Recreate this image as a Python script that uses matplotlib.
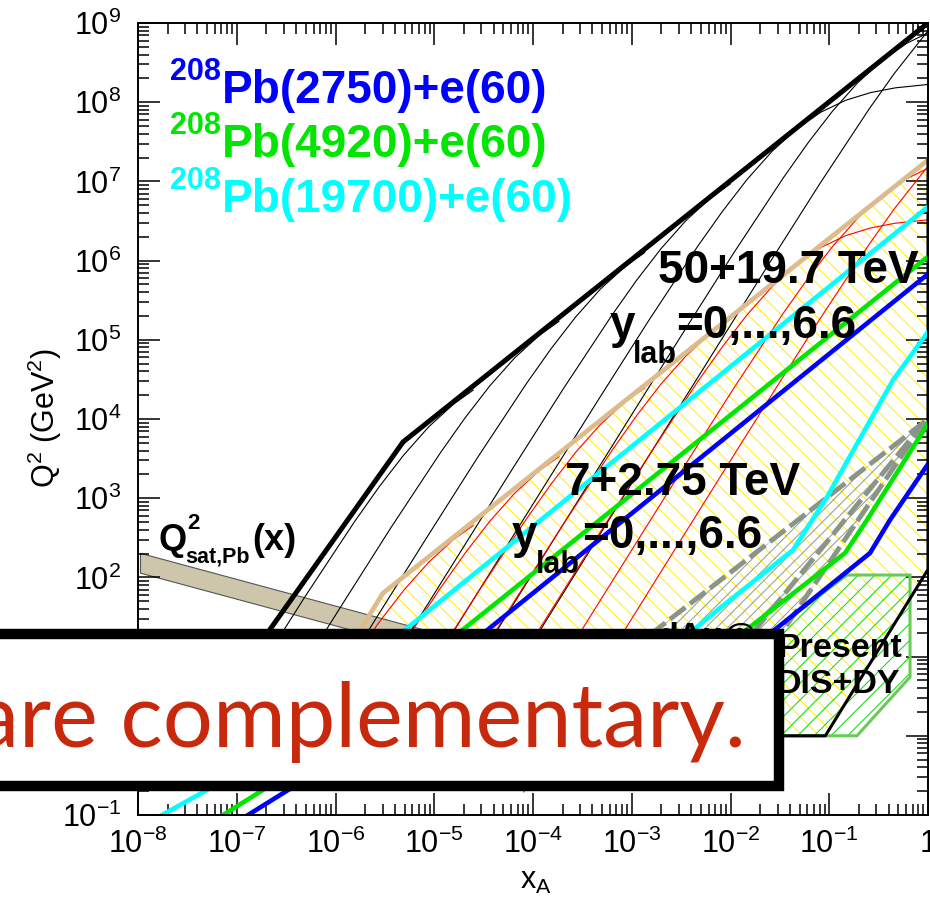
import numpy as np
import matplotlib
matplotlib.use('Agg')
import matplotlib.pyplot as plt
from matplotlib.patches import Polygon, Rectangle
from matplotlib.ticker import FixedLocator, FixedFormatter, LogLocator, NullFormatter

plt.rcParams['font.family'] = ['Liberation Sans', 'DejaVu Sans']
plt.rcParams['mathtext.fontset'] = 'custom'
plt.rcParams['mathtext.rm'] = 'Liberation Sans'
plt.rcParams['mathtext.it'] = 'Liberation Sans:italic'
plt.rcParams['mathtext.bf'] = 'Liberation Sans:bold'
plt.rcParams['hatch.linewidth'] = 0.7

# ---------------- data (log10 x_A , log10 Q^2) ----------------
xtick_values = [1e-8, 1e-7, 1e-6, 1e-5, 1e-4, 1e-3, 1e-2, 1e-1, 1.0]
xtick_labels = [r'$\mathregular{10^{-8}}$', r'$\mathregular{10^{-7}}$', r'$\mathregular{10^{-6}}$',
                r'$\mathregular{10^{-5}}$', r'$\mathregular{10^{-4}}$', r'$\mathregular{10^{-3}}$',
                r'$\mathregular{10^{-2}}$', r'$\mathregular{10^{-1}}$', '1']
ytick_values = [1e-1, 1e0, 1e1, 1e2, 1e3, 1e4, 1e5, 1e6, 1e7, 1e8, 1e9]
ytick_labels = [r'$\mathregular{10^{-1}}$', '1', r'$\mathregular{10^{1}}$', r'$\mathregular{10^{2}}$',
                r'$\mathregular{10^{3}}$', r'$\mathregular{10^{4}}$', r'$\mathregular{10^{5}}$',
                r'$\mathregular{10^{6}}$', r'$\mathregular{10^{7}}$', r'$\mathregular{10^{8}}$',
                r'$\mathregular{10^{9}}$']

# FCC pPb 50+19.7 TeV kinematic limit (thick black)
fcc_limit_lx = [-7.2, -5.316, 0.0]
fcc_limit_lq = [0.4, 3.71, 9.0]

# LHC pPb 7+2.75 TeV limit (tan) and region (yellow hatch)
lhc_limit_lx = [-6.45, -5.75, -5.52, 0.0]
lhc_limit_lq = [0.0, 1.336, 1.80, 7.27]
lhc_region_lx = [-6.45, -5.75, -5.52, 0.0, 0.0, -1.04]
lhc_region_lq = [0.0, 1.336, 1.80, 7.27, 2.1, 0.0]
lhc_edge_lx = [0.0, 0.0, -1.04, -6.45]
lhc_edge_lq = [7.27, 2.1, 0.0, 0.0]

# FCC y_lab = 0..6 curves (thin black)
fcc_y0_lx = [-4.794, -4.594, -4.094, -3.594, -3.094, -2.594, -2.094, -1.594, -1.094, -0.594, -0.344, 0.0]
fcc_y0_lq = [-0.399, 0.0, 1.0, 2.0, 3.0, 4.0, 4.998, 5.992, 6.974, 7.918, 8.358, 8.902]
fcc_y1_lx = [-5.213, -4.963, -4.463, -3.963, -3.463, -2.963, -2.463, -1.963, -1.463, -1.213, -0.963, -0.713, -0.463, -0.213, 0.0]
fcc_y1_lq = [-0.368, 0.132, 1.132, 2.132, 3.131, 4.129, 5.123, 6.105, 7.049, 7.490, 7.893, 8.244, 8.530, 8.745, 8.875]
fcc_y2_lx = [-5.632, -5.332, -4.832, -4.332, -3.832, -3.332, -2.832, -2.332, -2.082, -1.832, -1.582, -1.332, -1.082, -0.832, -0.582, -0.332, 0.0]
fcc_y2_lq = [-0.337, 0.263, 1.263, 2.263, 3.261, 4.255, 5.236, 6.181, 6.621, 7.025, 7.376, 7.661, 7.876, 8.025, 8.121, 8.181, 8.224]
fcc_y3_lx = [-6.1, -5.7, -5.2, -4.7, -4.2, -3.7, -3.2, -2.95, -2.7, -2.45, -2.2, -2.0]
fcc_y3_lq = [-0.405, 0.395, 1.394, 2.392, 3.386, 4.368, 5.312, 5.753, 6.156, 6.507, 6.793, 6.970]
fcc_y4_lx = [-6.569, -6.069, -5.569, -5.069, -4.569, -4.069, -3.819, -3.569, -3.319, -3.069, -2.869]
fcc_y4_lq = [-0.474, 0.525, 1.523, 2.517, 3.499, 4.443, 4.884, 5.287, 5.638, 5.924, 6.101]
fcc_y5_lx = [-6.937, -6.437, -5.937, -5.437, -4.937, -4.687, -4.437, -4.187, -3.937, -3.737]
fcc_y5_lq = [-0.343, 0.655, 1.649, 2.631, 3.575, 4.016, 4.419, 4.770, 5.056, 5.233]
fcc_y6_lx = [-7.306, -6.806, -6.306, -5.806, -5.556, -5.306, -5.056, -4.806, -4.606]
fcc_y6_lq = [-0.214, 0.780, 1.762, 2.706, 3.147, 3.550, 3.901, 4.187, 4.364]

# LHC y_lab = 0..6 curves (thin red)
lhc_y0_lx = [-4.094, -3.594, -3.094, -2.594, -2.094, -1.594, -1.094, -0.594, -0.344, 0.0]
lhc_y0_lq = [-0.709, 0.291, 1.291, 2.291, 3.289, 4.283, 5.265, 6.209, 6.649, 7.193]
lhc_y1_lx = [-4.463, -3.963, -3.463, -2.963, -2.463, -1.963, -1.463, -1.213, -0.963, -0.713, -0.463, -0.213, 0.0]
lhc_y1_lq = [-0.577, 0.423, 1.422, 2.420, 3.414, 4.396, 5.340, 5.781, 6.184, 6.535, 6.821, 7.036, 7.166]
lhc_y2_lx = [-4.832, -4.332, -3.832, -3.332, -2.832, -2.332, -2.082, -1.832, -1.582, -1.332, -1.082, -0.832, -0.582, -0.332, 0.0]
lhc_y2_lq = [-0.446, 0.554, 1.552, 2.546, 3.527, 4.472, 4.912, 5.316, 5.667, 5.952, 6.167, 6.316, 6.412, 6.472, 6.515]
lhc_y3_lx = [-5.2, -4.7, -4.2, -3.7, -3.2, -2.95, -2.7, -2.45, -2.2, -2.0]
lhc_y3_lq = [-0.315, 0.683, 1.677, 2.659, 3.603, 4.044, 4.447, 4.798, 5.084, 5.261]
lhc_y4_lx = [-5.569, -5.069, -4.569, -4.069, -3.819, -3.569, -3.319, -3.069, -2.869]
lhc_y4_lq = [-0.186, 0.808, 1.790, 2.734, 3.175, 3.578, 3.929, 4.215, 4.392]
lhc_y5_lx = [-5.937, -5.437, -4.937, -4.687, -4.437, -4.187, -3.937, -3.737]
lhc_y5_lq = [-0.060, 0.922, 1.866, 2.307, 2.710, 3.061, 3.347, 3.524]
lhc_y6_lx = [-6.306, -5.806, -5.556, -5.306, -5.056, -4.806, -4.606]
lhc_y6_lq = [0.053, 0.997, 1.438, 1.841, 2.192, 2.478, 2.655]

# ePb acceptance lines (upper: y=1, lower: low-y / angle limits)
pb2750_up_lx = [-6.886, -6.43, 0.0]
pb2750_up_lq = [-1.0, -0.646, 5.83]
pb2750_lo_lx = [-2.44, -1.529, -0.587, -0.385, -0.041, 0.0]
pb2750_lo_lq = [0.45, 1.361, 2.308, 2.725, 3.356, 3.43]
pb4920_up_lx = [-7.139, -6.734, 0.0]
pb4920_up_lq = [-1.0, -0.684, 6.05]
pb4920_lo_lx = [-2.755, -1.802, -0.84, -0.618, -0.041, 0.0]
pb4920_lo_lq = [0.45, 1.374, 2.308, 2.725, 3.861, 3.94]
pb19700_up_lx = [-7.757, -7.301, 0.0]
pb19700_up_lq = [-1.0, -0.684, 6.68]
pb19700_lo_lx = [-3.41, -2.339, -2.106, -1.367, -1.023, -0.354, 0.0]
pb19700_lo_lq = [0.3, 1.374, 1.614, 2.346, 3.015, 4.492, 5.1]

# Q^2_sat,Pb(x) band
qsat_lx = [-7.98, -3.0]
qsat_top_lq = [2.31, 0.632]
qsat_bot_lq = [2.06, 0.382]

# dAu@RHIC (gray)
dau_conv = (-0.03, 3.97)
dau_end_lx = [-3.10, -1.97, -1.646]
dau_end_lq = [1.0, 1.0, 1.0]

# Present DIS+DY (green)
dis_lx = [-3.0, -0.82, -0.182, -0.182, -0.72]
dis_lq = [0.0, 2.03, 2.03, 0.742, 0.0]

# ---------------- figure ----------------
W, H = 930, 897
fig = plt.figure(figsize=(W / 100, H / 100), dpi=100)
ax = fig.add_axes([138 / W, 82 / H, 790 / W, 792 / H])
ax.set_xscale('log')
ax.set_yscale('log')
ax.set_xlim(1e-8, 1.0)
ax.set_ylim(0.1, 1e9)


def P(v):
    return np.power(10.0, np.asarray(v, dtype=float))


def fp(x, y):
    return (x / W, 1 - y / H)


# hatched regions
ax.add_patch(Polygon(np.column_stack([P(lhc_region_lx), P(lhc_region_lq)]), closed=True,
                     facecolor='none', edgecolor='#fff000', linewidth=0, hatch='\\\\', zorder=1))
ax.add_patch(Polygon(np.column_stack([P(dis_lx), P(dis_lq)]), closed=True,
                     facecolor='none', edgecolor='#00dd00', linewidth=0, hatch='//', zorder=1.1))
ax.add_patch(Polygon(np.column_stack([P(dis_lx), P(dis_lq)]), closed=True,
                     facecolor='none', edgecolor='#66cc55', linewidth=2.2, zorder=3))
dau_poly_lx = [dau_conv[0], dau_end_lx[0], dau_end_lx[2]]
dau_poly_lq = [dau_conv[1], dau_end_lq[0], dau_end_lq[2]]
ax.add_patch(Polygon(np.column_stack([P(dau_poly_lx), P(dau_poly_lq)]), closed=True,
                     facecolor='none', edgecolor='#8f998f', linewidth=0, hatch='///', zorder=1.2))

# Q2 sat band
ax.fill_between(P(qsat_lx), P(qsat_bot_lq), P(qsat_top_lq), facecolor='#cdc6aa',
                edgecolor='#555555', linewidth=0.8, zorder=1.5)

# thin curves
for lx, lq in [(fcc_y0_lx, fcc_y0_lq), (fcc_y1_lx, fcc_y1_lq), (fcc_y2_lx, fcc_y2_lq),
               (fcc_y3_lx, fcc_y3_lq), (fcc_y4_lx, fcc_y4_lq), (fcc_y5_lx, fcc_y5_lq),
               (fcc_y6_lx, fcc_y6_lq)]:
    ax.plot(P(lx), P(lq), color='black', lw=0.8, zorder=2)
for lx, lq in [(lhc_y0_lx, lhc_y0_lq), (lhc_y1_lx, lhc_y1_lq), (lhc_y2_lx, lhc_y2_lq),
               (lhc_y3_lx, lhc_y3_lq), (lhc_y4_lx, lhc_y4_lq), (lhc_y5_lx, lhc_y5_lq),
               (lhc_y6_lx, lhc_y6_lq)]:
    ax.plot(P(lx), P(lq), color='#ff0000', lw=0.8, zorder=2.1)

# LHC boundary
ax.plot(P(lhc_limit_lx), P(lhc_limit_lq), color='#dcbc8c', lw=3.4, zorder=3, solid_capstyle='butt')
ax.plot(P(lhc_edge_lx), P(lhc_edge_lq), color='black', lw=2.2, zorder=3.1)

# dAu lines
for ex, eq in zip(dau_end_lx, dau_end_lq):
    ax.plot(P([dau_conv[0], ex]), P([dau_conv[1], eq]), color='#8a948a', lw=3.5,
            linestyle=(0, (4, 1.2)), zorder=3.5)

# ePb lines
ax.plot(P(pb2750_up_lx), P(pb2750_up_lq), color='#0000ff', lw=3.3, zorder=4)
ax.plot(P(pb2750_lo_lx), P(pb2750_lo_lq), color='#0000ff', lw=3.3, zorder=4)
ax.plot(P(pb4920_up_lx), P(pb4920_up_lq), color='#00e600', lw=3.3, zorder=4)
ax.plot(P(pb4920_lo_lx), P(pb4920_lo_lq), color='#00e600', lw=3.3, zorder=4)
ax.plot(P(pb19700_up_lx), P(pb19700_up_lq), color='#00ffff', lw=3.3, zorder=4)
ax.plot(P(pb19700_lo_lx), P(pb19700_lo_lq), color='#00ffff', lw=3.3, zorder=4)

# FCC limit
ax.plot(P(fcc_limit_lx), P(fcc_limit_lq), color='black', lw=3.6, zorder=5)

# axes styling
for s in ax.spines.values():
    s.set_linewidth(1.4)
    s.set_zorder(6)
ax.xaxis.set_major_locator(FixedLocator(xtick_values))
ax.xaxis.set_major_formatter(FixedFormatter(xtick_labels))
ax.yaxis.set_major_locator(FixedLocator(ytick_values))
ax.yaxis.set_major_formatter(FixedFormatter(ytick_labels))
ax.xaxis.set_minor_locator(LogLocator(base=10, subs=np.arange(2, 10), numticks=20))
ax.yaxis.set_minor_locator(LogLocator(base=10, subs=np.arange(2, 10), numticks=20))
ax.xaxis.set_minor_formatter(NullFormatter())
ax.yaxis.set_minor_formatter(NullFormatter())
ax.tick_params(which='both', direction='in', top=True, right=True, labelsize=22, width=1.1)
ax.tick_params(which='major', length=16)
ax.tick_params(which='minor', length=8)
ax.tick_params(axis='x', pad=10)
ax.tick_params(axis='y', pad=12)

# axis titles
fig.text(*fp(45, 418), r'Q$^2$ (GeV$^2$)', rotation=90, ha='center', va='center', fontsize=22)
fig.text(*fp(520, 889), r'x$_\mathregular{A}$', ha='left', va='baseline', fontsize=22)

# legend-like labels
leg = [('#0000ff', 'Pb(2750)+e(60)', 103), ('#00e600', 'Pb(4920)+e(60)', 157),
       ('#00ffff', 'Pb(19700)+e(60)', 212)]
for col, txt, yb in leg:
    fig.text(*fp(170, yb - 23), '208', color=col, fontsize=22, fontweight='bold', va='baseline')
    fig.text(*fp(222, yb), txt, color=col, fontsize=33, fontweight='bold', va='baseline')

# region labels
fig.text(*fp(658, 283), '50+19.7 TeV', fontsize=33, fontweight='bold', va='baseline')
fig.text(*fp(610, 338), 'y', fontsize=33, fontweight='bold', va='baseline')
fig.text(*fp(633, 363), 'lab', fontsize=22, fontweight='bold', va='baseline')
fig.text(*fp(676, 338), '=0,...,6.6', fontsize=33, fontweight='bold', va='baseline')
fig.text(*fp(565, 495), '7+2.75 TeV', fontsize=33, fontweight='bold', va='baseline')
fig.text(*fp(512, 548), 'y', fontsize=33, fontweight='bold', va='baseline')
fig.text(*fp(536, 573), 'lab', fontsize=22, fontweight='bold', va='baseline')
fig.text(*fp(582, 548), '=0,...,6.6', fontsize=33, fontweight='bold', va='baseline')

fig.text(*fp(158, 550), 'Q', fontsize=26, fontweight='bold', va='baseline')
fig.text(*fp(187, 529), '2', fontsize=16, fontweight='bold', va='baseline')
fig.text(*fp(185, 563), 'sat,Pb', fontsize=15.5, fontweight='bold', va='baseline')
fig.text(*fp(252, 550), '(x)', fontsize=26, fontweight='bold', va='baseline')

fig.text(*fp(778, 657), 'Present', fontsize=24.5, fontweight='bold', va='baseline')
fig.text(*fp(777, 693), 'DIS+DY', fontsize=24.5, fontweight='bold', va='baseline')
fig.text(*fp(658, 646), 'dAu@', fontsize=24.5, fontweight='bold', va='baseline')
fig.text(*fp(658, 680), 'RHIC', fontsize=24.5, fontweight='bold', va='baseline')

# overlay box with slide text
box = Rectangle(fp(-20, 786), 799 / W, 152 / H, transform=fig.transFigure,
                facecolor='white', edgecolor='black', linewidth=7.5, zorder=10)
fig.add_artist(box)
t = fig.text(*fp(746, 747), 'are complementary.', ha='right', va='baseline',
             fontsize=60, family=['Lato', 'DejaVu Sans'], color='#c8290c', zorder=11)
fig.canvas.draw()
w = t.get_window_extent().width
t.set_fontsize(60 * 772 / w)

fig.savefig('out.png', dpi=100)
